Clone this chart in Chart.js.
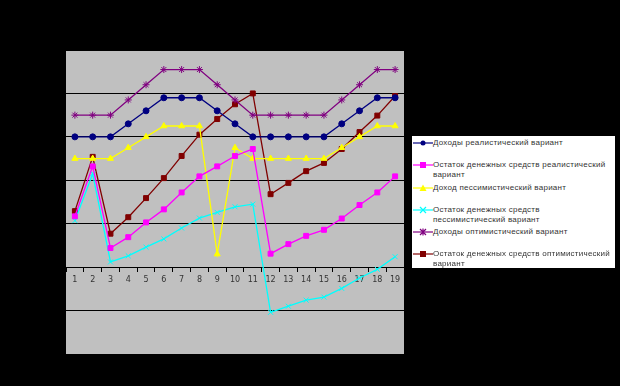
<!DOCTYPE html>
<html>
<head>
<meta charset="utf-8">
<script src="https://cdn.jsdelivr.net/npm/chart.js@4/dist/chart.umd.min.js"></script>
<style>
  html, body { margin: 0; padding: 0; background: #000; }
  #wrap { position: relative; width: 620px; height: 386px; background: #000; }
  #legend { position: absolute; left: 412px; top: 136px; width: 203px; height: 132px; background: #fff;
            font-family: "Liberation Sans", Arial, sans-serif; font-size: 8px; color: #333; letter-spacing: 0.25px; }
  .item { position: absolute; left: 0; width: 203px; line-height: 10px; }
  .item svg { position: absolute; left: 1px; top: 0; }
  .item span { position: absolute; left: 21px; top: 0; white-space: nowrap; }
</style>
</head>
<body>
<div id="wrap">
  <canvas id="c" width="620" height="386"></canvas>
  <div id="legend"></div>
</div>
<script>
const categories = ['1','2','3','4','5','6','7','8','9','10','11','12','13','14','15','16','17','18','19'];
const seriesNames = [
  'Доходы реалистический вариант',
  'Остаток денежных средств реалистический|вариант',
  'Доход пессимистический вариант',
  'Остаток денежных средств|пессимистический вариант',
  'Доходы оптимистический вариант',
  'Остаток денежных средств оптимистический|вариант'
];
const incomeRealistic   = [3, 3, 3, 3.3, 3.6, 3.9, 3.9, 3.9, 3.6, 3.3, 3, 3, 3, 3, 3, 3.3, 3.6, 3.9, 3.9];
const cashRealistic     = [1.17, 2.32, 0.44, 0.69, 1.03, 1.33, 1.72, 2.09, 2.32, 2.56, 2.72, 0.31, 0.53, 0.72, 0.86, 1.12, 1.43, 1.72, 2.09];
const incomePessimistic = [2.5, 2.5, 2.5, 2.75, 3, 3.25, 3.25, 3.25, 0.3, 2.75, 2.5, 2.5, 2.5, 2.5, 2.5, 2.75, 3, 3.25, 3.25];
const cashPessimistic   = [1.07, 2.15, 0.12, 0.26, 0.46, 0.65, 0.9, 1.13, 1.26, 1.39, 1.45, -1.04, -0.9, -0.76, -0.69, -0.49, -0.25, -0.05, 0.24];
const incomeOptimistic  = [3.5, 3.5, 3.5, 3.85, 4.2, 4.55, 4.55, 4.55, 4.2, 3.85, 3.5, 3.5, 3.5, 3.5, 3.5, 3.85, 4.2, 4.55, 4.55];
const cashOptimistic    = [1.29, 2.54, 0.77, 1.15, 1.59, 2.05, 2.56, 3.05, 3.41, 3.75, 4.0, 1.68, 1.94, 2.21, 2.4, 2.72, 3.11, 3.49, 3.94];

const styles = [
  { color: '#000080', point: 'circle',   r: 3 },
  { color: '#FF00FF', point: 'rect',     r: 3.5 },
  { color: '#FFFF00', point: 'triangle', r: 3.5 },
  { color: '#00FFFF', point: 'crossRot', r: 3.5 },
  { color: '#800080', point: 'star',     r: 3.5 },
  { color: '#800000', point: 'rect',     r: 3.5 }
];
const allData = [incomeRealistic, cashRealistic, incomePessimistic, cashPessimistic, incomeOptimistic, cashOptimistic];

const datasets = allData.map((d, i) => ({
  label: seriesNames[i].replace('|', ' '),
  data: d,
  borderColor: styles[i].color,
  backgroundColor: styles[i].color,
  borderWidth: 1.3,
  pointStyle: styles[i].point,
  pointRadius: styles[i].r,
  pointBorderWidth: 1,
  pointBorderColor: styles[i].color,
  pointBackgroundColor: styles[i].color,
  tension: 0,
  fill: false
}));

const bgPlugin = {
  id: 'bg',
  beforeDraw(chart) {
    const { ctx, chartArea: a } = chart;
    ctx.save();
    ctx.fillStyle = '#000';
    ctx.fillRect(0, 0, chart.width, chart.height);
    ctx.fillStyle = '#C0C0C0';
    ctx.fillRect(a.left, a.top, a.right - a.left, a.bottom - a.top);
    ctx.restore();
  }
};

new Chart(document.getElementById('c'), {
  type: 'line',
  data: { labels: categories, datasets },
  options: {
    responsive: false,
    animation: false,
    layout: { padding: { left: 66, right: 216, top: 50, bottom: 32 } },
    plugins: { legend: { display: false }, tooltip: { enabled: false } },
    scales: {
      x: {
        position: { y: 0 },
        offset: true,
        grid: { offset: true, drawOnChartArea: false, drawTicks: true, tickLength: 4, color: '#000' },
        border: { display: true, color: '#000', width: 1 },
        ticks: { color: '#333', font: { size: 8, family: 'DejaVu Sans' }, padding: 4, maxRotation: 0, autoSkip: false }
      },
      y: {
        min: -2, max: 5,
        ticks: { display: false, stepSize: 1 },
        grid: { color: '#000', lineWidth: 1, drawTicks: false },
        border: { display: false },
        afterFit(s) { s.width = 0; }
      }
    }
  },
  plugins: [bgPlugin]
});

// legend
const legend = document.getElementById('legend');
const tops = [2, 24, 47, 69, 91, 113];
function markerSvg(st) {
  const c = st.color, cx = 10, cy = 5;
  let m = '';
  if (st.point === 'circle') m = `<circle cx="${cx}" cy="${cy}" r="2.5" fill="${c}"/>`;
  else if (st.point === 'rect') m = `<rect x="${cx-3}" y="${cy-3}" width="6" height="6" fill="${c}"/>`;
  else if (st.point === 'triangle') m = `<polygon points="${cx},${cy-3.5} ${cx+3.5},${cy+3} ${cx-3.5},${cy+3}" fill="${c}"/>`;
  else if (st.point === 'crossRot') m = `<path d="M${cx-3} ${cy-3}L${cx+3} ${cy+3}M${cx+3} ${cy-3}L${cx-3} ${cy+3}" stroke="${c}" stroke-width="1.2"/>`;
  else if (st.point === 'star') m = `<path d="M${cx-3} ${cy-3}L${cx+3} ${cy+3}M${cx+3} ${cy-3}L${cx-3} ${cy+3}M${cx} ${cy-3.5}L${cx} ${cy+3.5}" stroke="${c}" stroke-width="1.2"/>`;
  return `<svg width="20" height="10"><line x1="0" y1="${cy}" x2="20" y2="${cy}" stroke="${c}" stroke-width="1.2"/>${m}</svg>`;
}
seriesNames.forEach((n, i) => {
  const d = document.createElement('div');
  d.className = 'item';
  d.style.top = tops[i] + 'px';
  d.innerHTML = markerSvg(styles[i]) + '<span>' + n.split('|').join('<br>') + '</span>';
  legend.appendChild(d);
});
</script>
</body>
</html>
